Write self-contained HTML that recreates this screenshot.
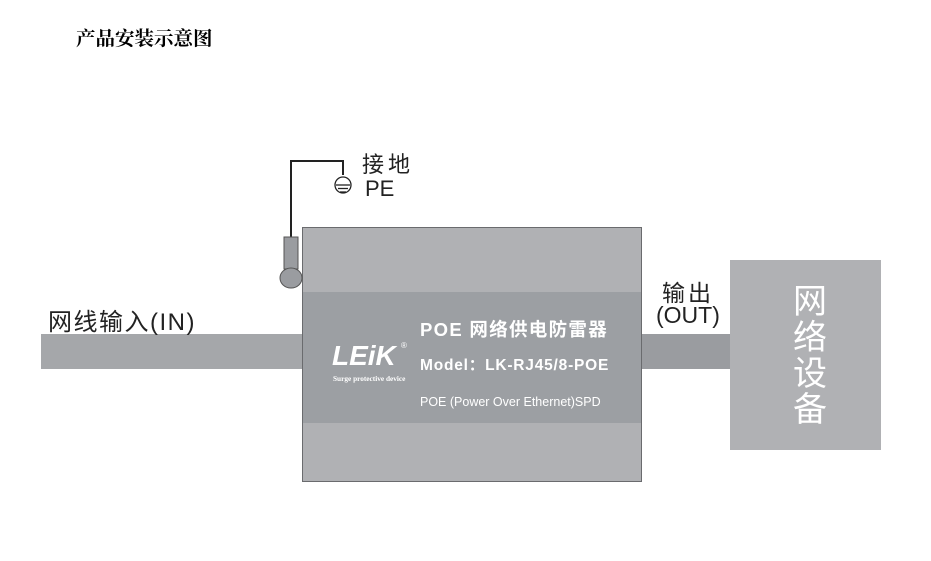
<!DOCTYPE html>
<html><head><meta charset="utf-8"><style>
body{margin:0;width:931px;height:561px;background:#fff;position:relative;overflow:hidden;font-family:"Liberation Sans","Noto Sans CJK SC",sans-serif}
.a{position:absolute}
</style></head><body>
<div class="a" style="left:76px;top:23px;font:bold 19.5px 'Liberation Serif','Noto Serif CJK SC',serif;color:#000">产品安装示意图</div>
<div class="a" style="left:41px;top:334px;width:262px;height:35px;background:#a5a7aa"></div>
<div class="a" style="left:641px;top:334px;width:90px;height:35px;background:#9a9ca0"></div>
<div class="a" style="left:730px;top:260px;width:151px;height:190px;background:#b0b1b4"></div>
<div class="a" style="left:788px;top:284px;width:44px;font-size:34px;line-height:36px;color:#fff;text-align:center">网络设备</div>
<div class="a" style="left:302px;top:227px;width:338px;height:253px;background:#b0b1b4;border:1px solid #6a6b6e"></div>
<div class="a" style="left:303px;top:292px;width:338px;height:131px;background:#9c9fa3"></div>
<div class="a" style="left:420px;top:316px;font-weight:bold;font-size:18.5px;color:#fff;letter-spacing:1.3px">POE 网络供电防雷器</div>
<div class="a" style="left:420px;top:353px;font-weight:bold;font-size:15.5px;color:#fff;letter-spacing:0.8px">Model：LK-RJ45/8-POE</div>
<div class="a" style="left:420px;top:395px;font-size:12.5px;color:#fff">POE (Power Over Ethernet)SPD</div>
<div class="a" style="left:332px;top:340px;font:italic bold 28px 'Liberation Sans',sans-serif;color:#fff;letter-spacing:0px">LEiK</div>
<div class="a" style="left:401px;top:341px;font-size:8px;color:#fff">®</div>
<div class="a" style="left:333px;top:374px;font:bold 7.3px 'Liberation Serif',serif;color:#fff">Surge protective device</div>
<svg class="a" style="left:0;top:0" width="931" height="561">
<polyline points="291,237 291,161 343,161 343,175" fill="none" stroke="#222" stroke-width="2"/>
<circle cx="343" cy="185" r="8" fill="none" stroke="#222" stroke-width="1.3"/>
<line x1="336" y1="185" x2="350" y2="185" stroke="#222" stroke-width="1.3"/>
<line x1="338" y1="188.5" x2="348" y2="188.5" stroke="#222" stroke-width="1.3"/>
<line x1="340" y1="192" x2="346" y2="192" stroke="#222" stroke-width="1.3"/>
<rect x="284" y="237" width="14" height="32" fill="#9a9ca0" stroke="#555" stroke-width="1"/>
<ellipse cx="291" cy="278" rx="11" ry="10" fill="#9a9ca0" stroke="#555" stroke-width="1"/>
</svg>
<div class="a" style="left:362px;top:147px;font-size:22px;color:#222;letter-spacing:4px">接地</div>
<div class="a" style="left:365px;top:176px;font-size:22px;color:#222">PE</div>
<div class="a" style="left:48px;top:302px;font-size:24px;color:#222;letter-spacing:1.5px">网线输入(IN)</div>
<div class="a" style="left:662px;top:274px;font-size:23px;color:#222;letter-spacing:3px">输出</div>
<div class="a" style="left:656px;top:302px;font-size:23px;color:#222">(OUT)</div>
</body></html>
